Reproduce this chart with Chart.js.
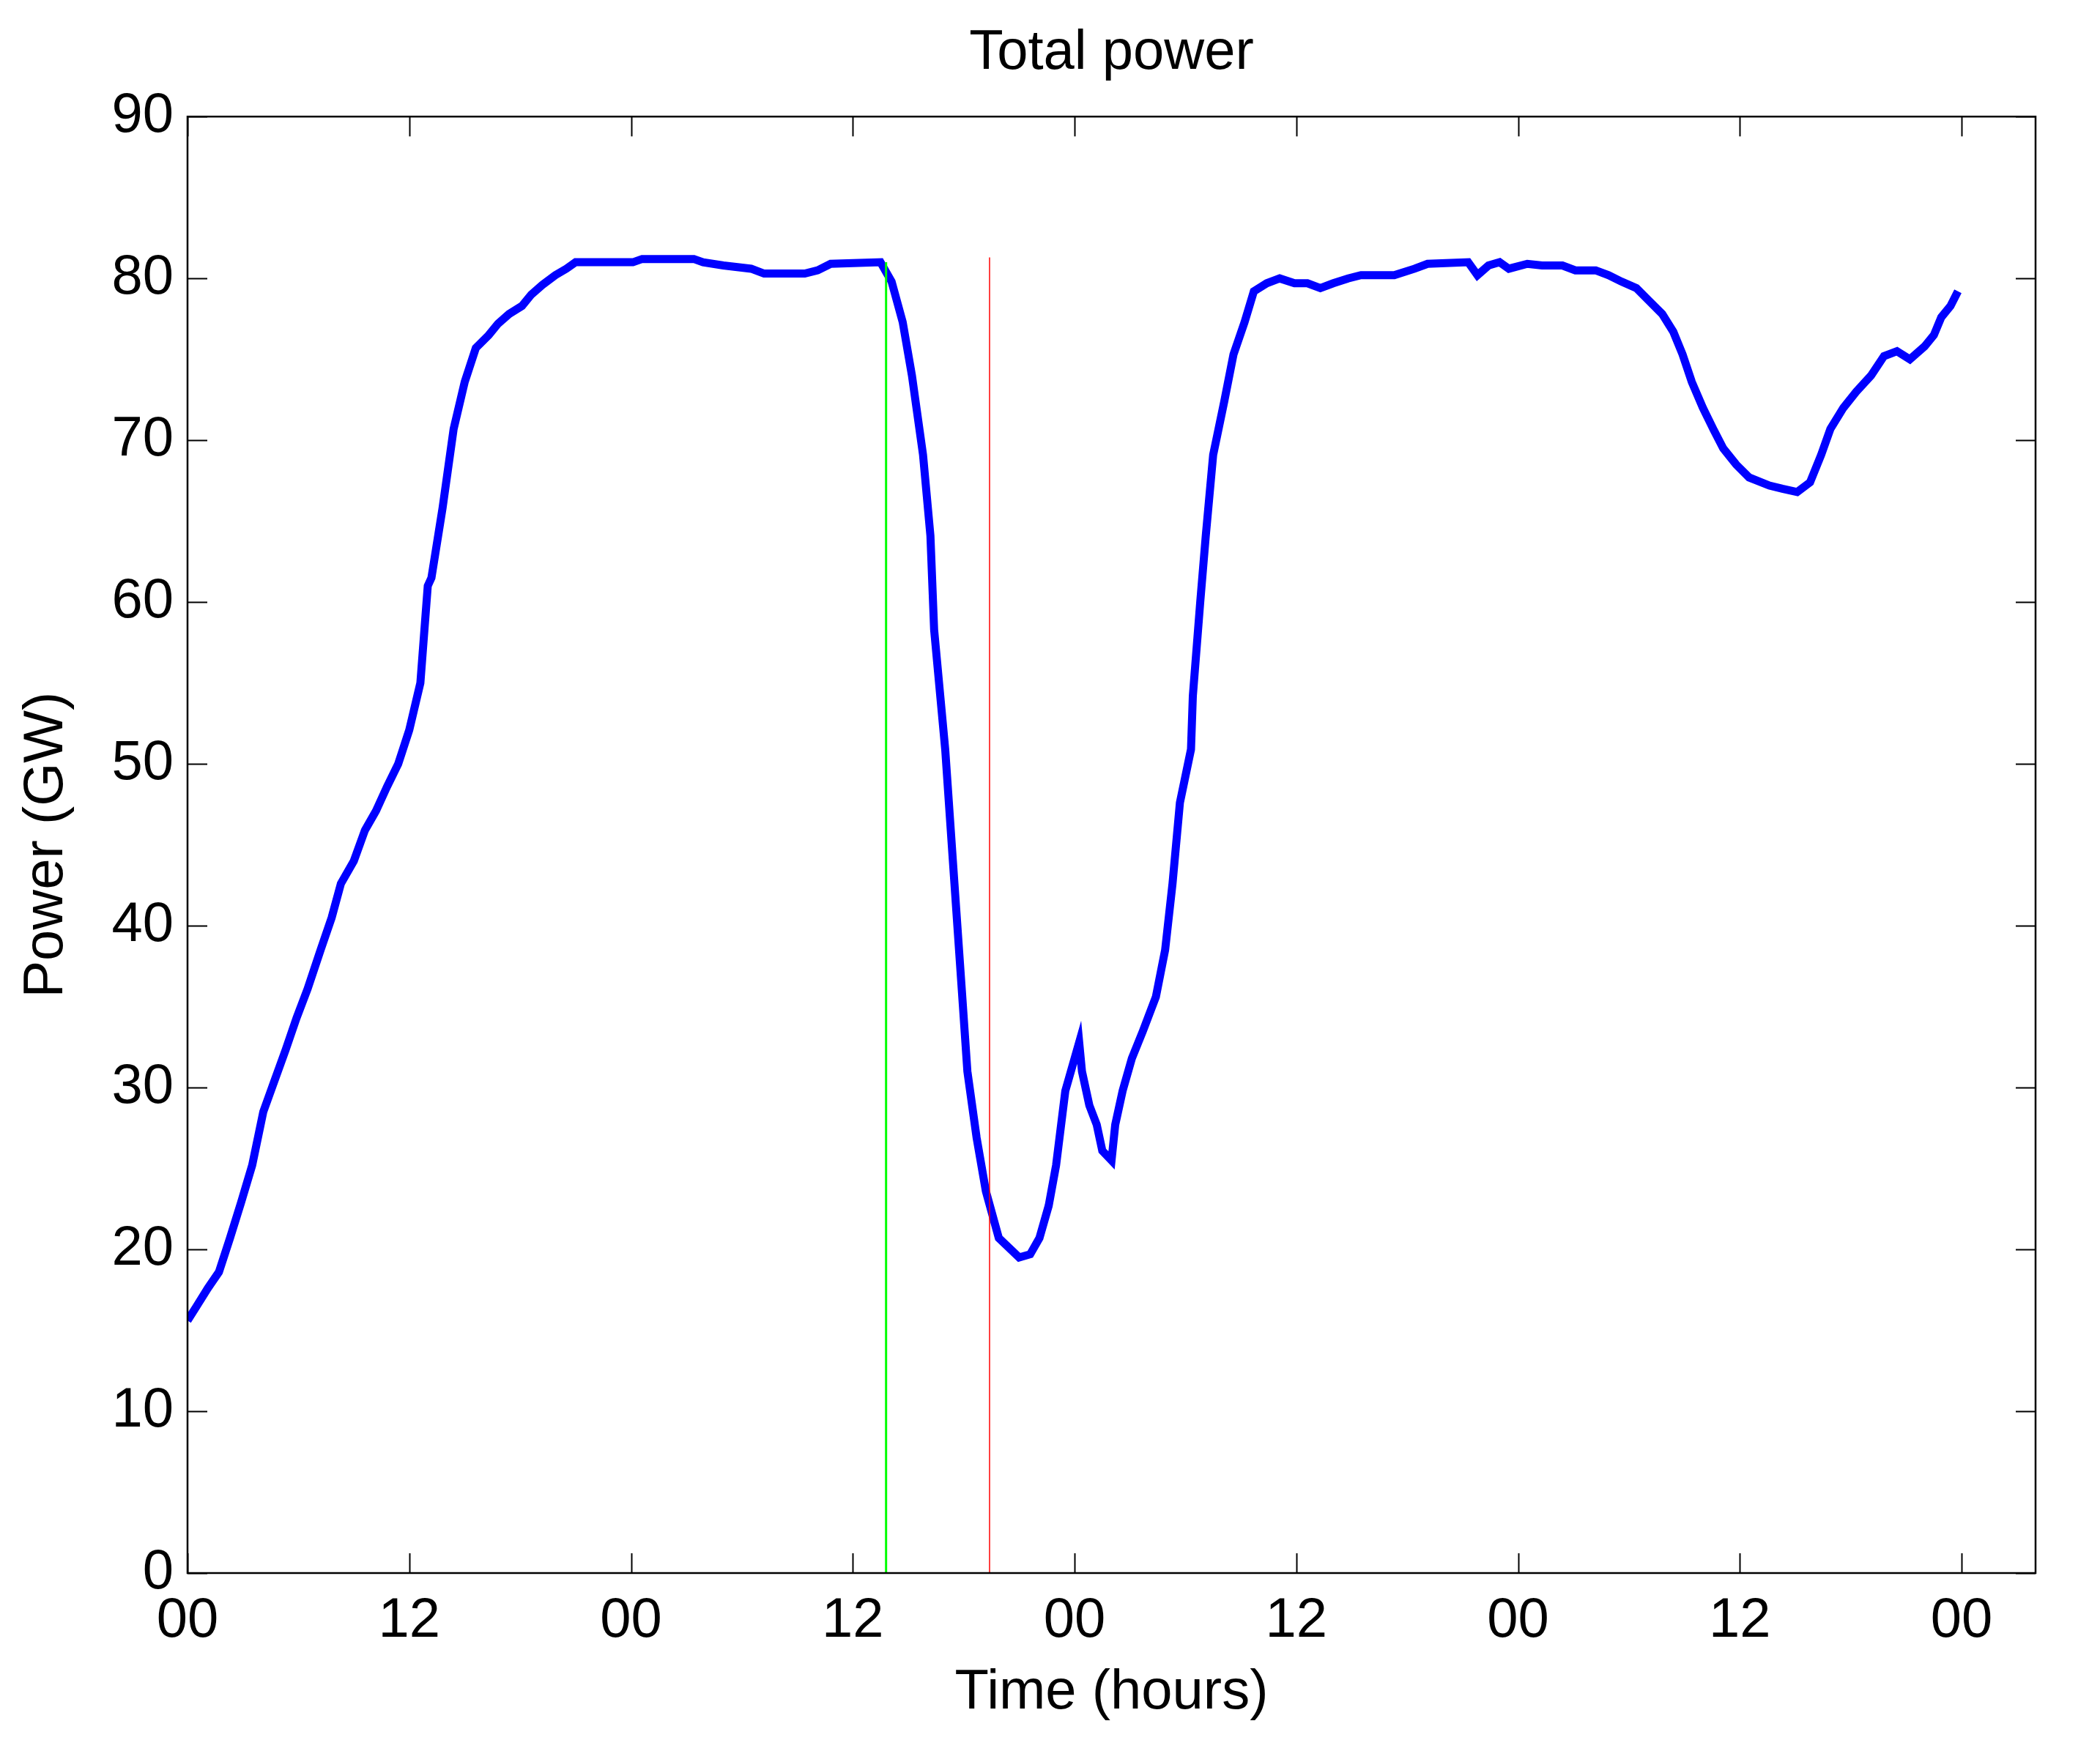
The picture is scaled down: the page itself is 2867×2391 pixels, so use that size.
<!DOCTYPE html>
<html>
<head>
<meta charset="utf-8">
<script src="https://cdn.jsdelivr.net/npm/chart.js@4"></script>
<style>
  body { margin: 0; background: #fff; }
</style>
</head>
<body>
<canvas id="grafico" width="2867" height="2391"></canvas>
<script>
const horas = [0, 0.5, 1.1, 1.7, 2.3, 2.9, 3.5, 4.1, 4.7, 5.3, 5.9, 6.5, 7.2, 7.8, 8.3, 9.0, 9.6, 10.2, 10.8, 11.4,
    12.0, 12.6, 13.0, 13.2, 13.8, 14.4, 15.0, 15.6, 16.3, 16.8, 17.4, 18.1, 18.6, 19.2, 19.9, 20.5, 21.0, 24.1, 24.6, 27.4,
    27.9, 29.0, 30.5, 31.2, 33.4, 34.1, 34.8, 37.5, 38.1, 38.7, 39.2, 39.8, 40.2, 40.4, 41.0, 41.5, 41.9, 42.2, 42.7, 43.2,
    43.9, 45.0, 45.6, 46.1, 46.6, 47.0, 47.5, 48.25, 48.4, 48.8, 49.2, 49.5, 50.0, 50.2, 50.6, 51.1, 51.7, 52.4, 52.9, 53.3,
    53.7, 54.3, 54.4, 54.8, 55.1, 55.5, 56.1, 56.6, 57.2, 57.7, 58.4, 59.1, 59.9, 60.6, 61.3, 62.0, 62.8, 63.5, 65.3, 66.4,
    67.1, 69.3, 69.8, 70.4, 71.0, 71.5, 72.5, 73.3, 74.4, 75.1, 76.2, 76.9, 77.6, 78.4, 79.1, 79.8, 80.4, 80.9, 81.4, 82.0,
    82.6, 83.1, 83.8, 84.5, 85.6, 86.3, 87.1, 87.8, 88.4, 88.9, 89.6, 90.3, 91.1, 91.8, 92.5, 93.2, 94.0, 94.5, 94.9, 95.4,
    95.8]
const potencia = [15.6, 16.5, 17.6, 18.6, 20.7, 22.9, 25.2, 28.5, 30.4, 32.3, 34.3, 36.1, 38.5, 40.5, 42.6, 44.0, 45.9, 47.1, 48.6, 50.0,
    52.1, 55.0, 61.0, 61.5, 65.8, 70.7, 73.6, 75.7, 76.5, 77.2, 77.8, 78.3, 79.0, 79.6, 80.2, 80.6, 81.0, 81.0, 81.2, 81.2,
    81.0, 80.8, 80.6, 80.3, 80.3, 80.5, 80.9, 81.0, 79.8, 77.3, 74.0, 69.1, 64.1, 58.3, 50.9, 42.6, 36.0, 31.0, 26.9, 23.6,
    20.7, 19.5, 19.7, 20.7, 22.7, 25.2, 29.8, 32.8, 31.0, 28.9, 27.7, 26.1, 25.5, 27.7, 29.8, 31.8, 33.5, 35.6, 38.5, 42.6,
    47.6, 50.9, 54.2, 60.0, 64.1, 69.1, 72.4, 75.3, 77.3, 79.2, 79.7, 80.0, 79.7, 79.7, 79.4, 79.7, 80.0, 80.2, 80.2, 80.6,
    80.9, 81.0, 80.2, 80.8, 81.0, 80.6, 80.9, 80.8, 80.8, 80.5, 80.5, 80.2, 79.8, 79.4, 78.6, 77.8, 76.7, 75.3, 73.6, 72.0,
    70.6, 69.5, 68.5, 67.7, 67.2, 67.0, 66.8, 67.4, 69.1, 70.7, 72.0, 73.0, 74.0, 75.2, 75.5, 75.0, 75.8, 76.5, 77.6, 78.3,
    79.2]

// linhas verticais (inicio e fim do evento)
const marca_horas = [37.8, 43.4]
const marca_topo = [81.0, 81.3]

const ticks_x = [0, 12, 24, 36, 48, 60, 72, 84, 96]
const rotulos_x = ['00', '12', '00', '12', '00', '12', '00', '12', '00']
const ticks_y = [0, 10, 20, 30, 40, 50, 60, 70, 80, 90]

const fonte = 'Liberation Sans, Arial, Helvetica, sans-serif'

function pontos(xs, ys){
    return xs.map(function(x, i){ return {x: x, y: ys[i]} })
}

// caixa e ticks para dentro, estilo matlab
const caixa = {
    id: 'caixa',
    afterDatasetsDraw(chart){
        const ctx = chart.ctx
        const a = chart.chartArea
        const sx = chart.scales.x
        const sy = chart.scales.y
        const tam = 27
        ctx.save()
        ctx.strokeStyle = '#000'
        ctx.lineWidth = 2
        ctx.beginPath()
        sx.ticks.forEach(function(t){
            const px = Math.round(sx.getPixelForValue(t.value)) + 0.5
            ctx.moveTo(px, a.bottom); ctx.lineTo(px, a.bottom - tam)
            ctx.moveTo(px, a.top); ctx.lineTo(px, a.top + tam)
        })
        sy.ticks.forEach(function(t){
            const py = Math.round(sy.getPixelForValue(t.value)) + 0.5
            ctx.moveTo(a.left, py); ctx.lineTo(a.left + tam, py)
            ctx.moveTo(a.right, py); ctx.lineTo(a.right - tam, py)
        })
        ctx.stroke()
        ctx.lineWidth = 2.5
        ctx.strokeRect(a.left, a.top, a.right - a.left, a.bottom - a.top)
        ctx.restore()
    }
}

const ctx = document.getElementById('grafico').getContext('2d')
const grafico = new Chart(ctx, {
    type: 'line',
    data: {
        datasets: [
            {
                data: pontos([marca_horas[0], marca_horas[0]], [0, marca_topo[0]]),
                borderColor: '#00ff00',
                borderWidth: 3
            },
            {
                data: pontos([marca_horas[1], marca_horas[1]], [0, marca_topo[1]]),
                borderColor: '#ff0000',
                borderWidth: 1.5
            },
            {
                label: 'Total power',
                data: pontos(horas, potencia),
                borderColor: '#0000ff',
                borderWidth: 11
            }
        ]
    },
    options: {
        responsive: false,
        devicePixelRatio: 1,
        animation: false,
        layout: { padding: { left: 0, right: 88, top: 0, bottom: 0 } },
        elements: {
            point: { radius: 0 },
            line: { tension: 0, fill: false }
        },
        plugins: {
            legend: { display: false },
            tooltip: { enabled: false },
            title: {
                display: true,
                text: 'Total power',
                color: '#000',
                fullSize: false,
                font: { family: fonte, size: 76, weight: 'normal' },
                padding: { top: 27, bottom: 41 }
            }
        },
        scales: {
            x: {
                type: 'linear',
                min: 0,
                max: 100,
                afterBuildTicks: function(s){ s.ticks = ticks_x.map(function(v){ return {value: v} }) },
                afterFit: function(s){ s.height = 2391 - 2148 },
                grid: { display: false },
                border: { display: false },
                ticks: {
                    autoSkip: false,
                    maxRotation: 0,
                    padding: 12,
                    color: '#000',
                    font: { family: fonte, size: 76 },
                    callback: function(v, i){ return rotulos_x[i] }
                },
                title: {
                    display: true,
                    text: 'Time (hours)',
                    color: '#000',
                    font: { family: fonte, size: 76 },
                    padding: { top: 0, bottom: 33 }
                }
            },
            y: {
                min: 0,
                max: 90,
                afterBuildTicks: function(s){ s.ticks = ticks_y.map(function(v){ return {value: v} }) },
                afterFit: function(s){ s.width = 256 },
                grid: { display: false },
                border: { display: false },
                ticks: {
                    padding: 11,
                    color: '#000',
                    font: { family: fonte, size: 76 }
                },
                title: {
                    display: true,
                    text: 'Power (GW)',
                    color: '#000',
                    font: { family: fonte, size: 76 },
                    padding: { top: 18, bottom: 0 }
                }
            }
        }
    },
    plugins: [caixa]
})
</script>
</body>
</html>
